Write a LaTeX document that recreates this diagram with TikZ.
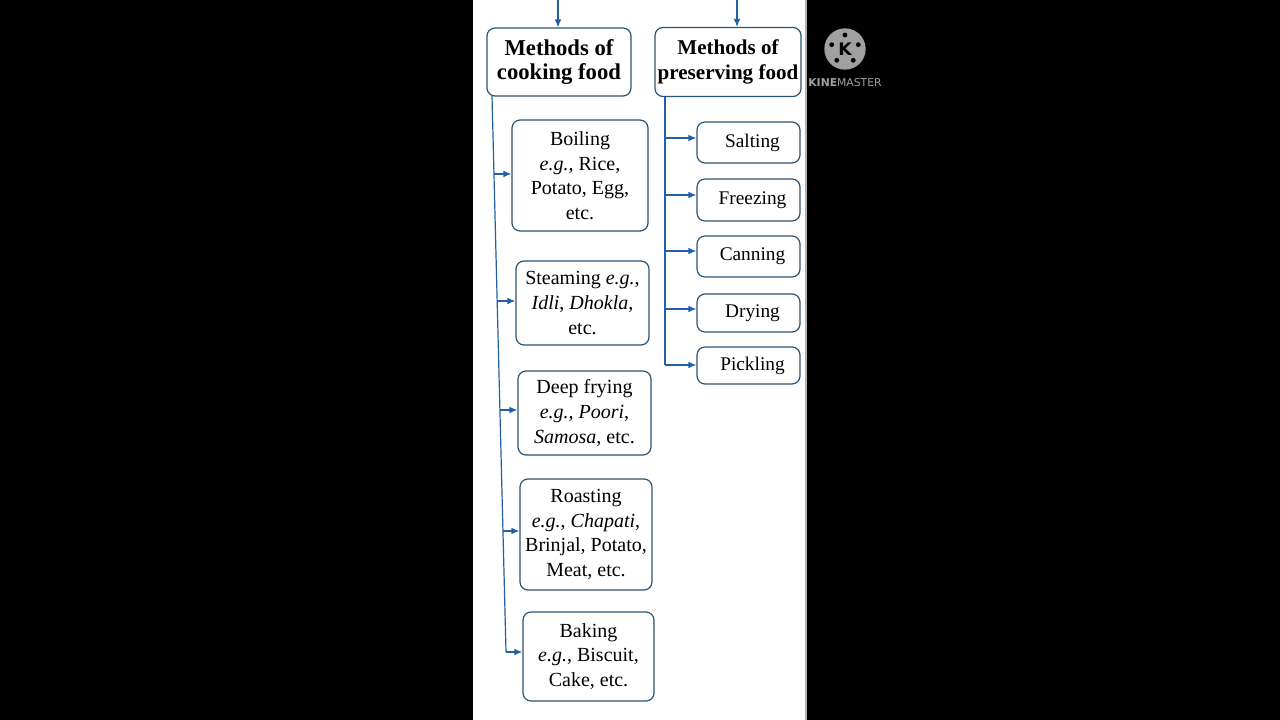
\documentclass[tikz,border=0pt]{standalone}
\usepackage{fontspec}
\setmainfont{Liberation Serif}
\newfontfamily\wmfont{DejaVu Sans}
\usetikzlibrary{arrows.meta}
\definecolor{boxc}{RGB}{45,85,115}
\definecolor{arrc}{RGB}{35,95,165}
\definecolor{wmgray}{RGB}{160,160,160}
\begin{document}
\begin{tikzpicture}[x=0.75pt,y=-0.75pt]
\tikzset{
 box/.style={draw=boxc, line width=0.9pt, rounded corners=6pt, fill=white, align=center, inner sep=0pt, font=\fontsize{15}{18.4}\selectfont},
 head/.style={box, font=\bfseries\fontsize{17}{18}\selectfont},
 rbox/.style={box, minimum width=77.25pt, font=\fontsize{14.5}{17}\selectfont},
 arr/.style={draw=arrc, line width=0.9pt, -{Latex[length=6pt,width=5pt]}},
 ln/.style={draw=arrc, line width=0.9pt}
}
\fill[black] (0,0) rectangle (1280,720);
\useasboundingbox (0,0) rectangle (1280,720);
\fill[white] (473,0) rectangle (806,720);
\draw[gray!60, line width=0.8pt] (806,0) -- (806,720);

% headings
\node[head, minimum width=108pt, minimum height=51pt] (cook) at (559,62) {Methods of\\cooking food};
\node[head, minimum width=109.5pt, minimum height=51.75pt, font=\bfseries\fontsize{15.8}{18.5}\selectfont] (pres) at (728,62) {Methods of\\preserving food};

% cooking boxes
\node[box, minimum width=102pt, minimum height=83.25pt] (boil) at (580,175.5) {Boiling\\\textit{e.g.}, Rice,\\Potato, Egg,\\etc.};
\node[box, minimum width=99.75pt, minimum height=63pt] (steam) at (582.5,303) {Steaming \textit{e.g.},\\\textit{Idli}, \textit{Dhokla},\\etc.};
\node[box, minimum width=99.75pt, minimum height=63pt] (deep) at (584.5,413) {Deep frying\\\textit{e.g.}, \textit{Poori},\\\textit{Samosa}, etc.};
\node[box, minimum width=99pt, minimum height=83.25pt] (roast) at (586,534.5) {Roasting\\\textit{e.g.}, \textit{Chapati},\\Brinjal, Potato,\\Meat, etc.};
\node[box, minimum width=98.25pt, minimum height=66.75pt] (bake) at (588.5,656.5) {Baking\\\textit{e.g.}, Biscuit,\\Cake, etc.};

% preserving boxes
\node[rbox, minimum height=30.75pt] (salt) at (748.5,142.5) {\hspace*{6pt}Salting};
\node[rbox, minimum height=31.5pt] (freeze) at (748.5,200) {\hspace*{6pt}Freezing};
\node[rbox, minimum height=30.75pt] (can) at (748.5,256.5) {\hspace*{6pt}Canning};
\node[rbox, minimum height=28.5pt] (dry) at (748.5,313) {\hspace*{6pt}Drying};
\node[rbox, minimum height=27.75pt] (pick) at (748.5,365.5) {\hspace*{6pt}Pickling};

% top arrows
\coordinate (t1) at (558,0);
\coordinate (t2) at (737,0);
\draw[arr] (t1) -- (t1 |- cook.north);
\draw[arr] (t2) -- (t2 |- pres.north);

% left trunk
\coordinate (L0) at (492,96);
\coordinate (L1) at (494,174);
\coordinate (L2) at (497,301);
\coordinate (L3) at (500,410);
\coordinate (L4) at (503,531);
\coordinate (L5) at (506,652);
\draw[ln] (L0) -- (L5);
\draw[arr] (L1) -- (L1 -| boil.west);
\draw[arr] (L2) -- (L2 -| steam.west);
\draw[arr] (L3) -- (L3 -| deep.west);
\draw[arr] (L4) -- (L4 -| roast.west);
\draw[arr] (L5) -- (L5 -| bake.west);

% right trunk
\coordinate (R0) at (665,97);
\coordinate (R1) at (665,138);
\coordinate (R2) at (665,195);
\coordinate (R3) at (665,251);
\coordinate (R4) at (665,309);
\coordinate (R5) at (665,365);
\draw[ln] (R0) -- (R5);
\draw[arr] (R1) -- (R1 -| salt.west);
\draw[arr] (R2) -- (R2 -| freeze.west);
\draw[arr] (R3) -- (R3 -| can.west);
\draw[arr] (R4) -- (R4 -| dry.west);
\draw[arr] (R5) -- (R5 -| pick.west);

% watermark
\node[circle, fill=wmgray, minimum size=31pt, inner sep=0pt, font=\wmfont\bfseries\fontsize{13}{13}\selectfont, text=black] (wm) at (845,49) {K};
\foreach \a in {90,18,162,234,306} \fill[black] (wm.center) ++(\a:10.5pt) circle (1.8pt);
\node[text=wmgray, font=\wmfont\fontsize{8.1}{9}\selectfont, inner sep=0pt] (wmt) at (845,83) {\textbf{KINE}MASTER};
\end{tikzpicture}
\end{document}
